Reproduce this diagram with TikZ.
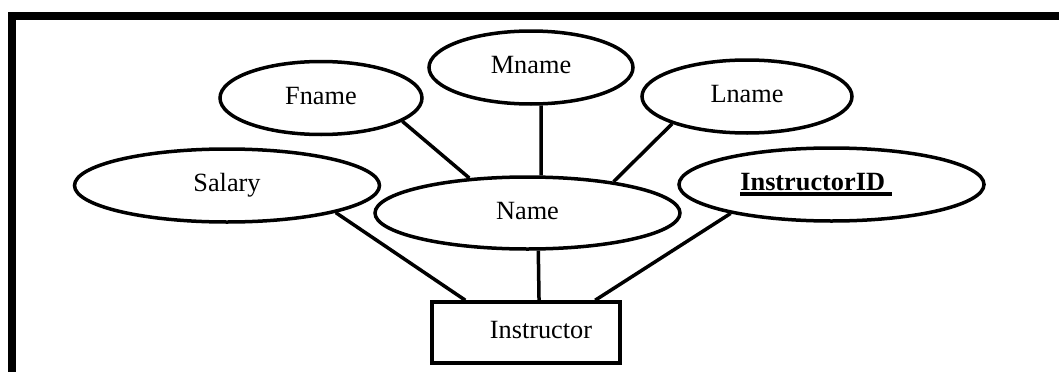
\documentclass[tikz,border=0pt]{standalone}
\usepackage{fontspec}
\setmainfont{Liberation Serif}
\usetikzlibrary{shapes.geometric}
% thick underline for the key attribute
\newcommand{\keyul}[1]{\setbox0=\hbox{#1}\leavevmode\rlap{\rule[-5pt]{\wd0}{3.5pt}}\box0}
\begin{document}
\begin{tikzpicture}[x=1pt,y=-1pt,
  attr/.style={ellipse,draw,line width=3.5pt,inner sep=0pt,
    text height=18pt,text depth=6pt,font=\fontsize{26.3}{30}\selectfont},
  ent/.style={rectangle,draw,line width=3.5pt,inner sep=0pt,
    text height=18pt,text depth=6pt,font=\fontsize{26.3}{30}\selectfont},
  link/.style={line width=3.5pt}]
\useasboundingbox (0,0) rectangle (1059,372);

% frame along the top and left
\fill (8,12) rectangle (1059,20);
\fill (8,12) rectangle (16,372);

% attributes
\node[attr,minimum width=202pt,minimum height=73pt] (Fname) at (321,98) {Fname};
\node[attr,minimum width=204pt,minimum height=73pt] (Mname) at (531,67.5) {Mname};
\node[attr,minimum width=210pt,minimum height=73pt] (Lname) at (747,96.5) {Lname};
\node[attr,minimum width=305pt,minimum height=73pt] (Salary) at (227,185.5) {Salary};
\node[attr,minimum width=305pt,minimum height=72pt] (Name) at (527.5,213) {Name};
\node[attr,minimum width=305pt,minimum height=73pt] (ID) at (831.5,184.5)
  {\keyul{\textbf{InstructorID\ }}\hspace*{31pt}};

% entity
\node[ent,minimum width=188pt,minimum height=61pt] (Instructor) at (526,332.5)
  {\hspace*{30pt}Instructor};

% connectors
\draw[link] (Fname.-16) -- (Name.149);
\draw[link] (Mname.-75) -- (Name.70);
\draw[link] (Lname.-160.5) -- (Name.20.5);
\draw[link] (Salary.-14) -- (Instructor.152.3);
\draw[link] (Name.-74) -- (Instructor.68.5);
\draw[link] (ID.196.5) -- (Instructor.25.5);
\end{tikzpicture}
\end{document}
